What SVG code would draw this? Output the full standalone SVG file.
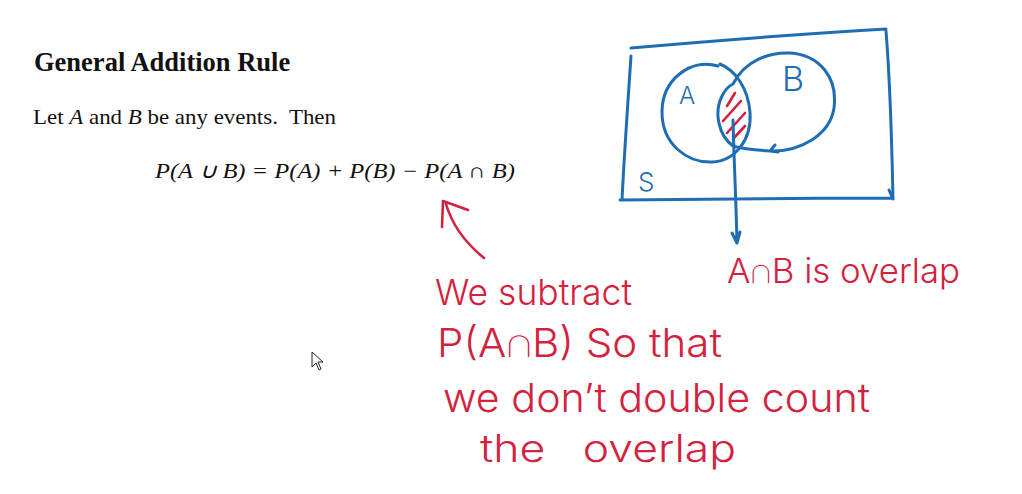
<svg xmlns="http://www.w3.org/2000/svg" width="1022" height="494" viewBox="0 0 1022 494">
<style>
.ink-b{fill:none;stroke:#1f6db3;stroke-width:3;stroke-linecap:round;stroke-linejoin:round}
.ink-r{fill:none;stroke:#d4213d;stroke-width:2.6;stroke-linecap:round;stroke-linejoin:round}
.hand-r{font-family:"Inter","Lato","DejaVu Sans",sans-serif;fill:#d4213d;font-weight:300}
.hand-b{font-family:"Inter","Lato","DejaVu Sans",sans-serif;fill:#1f6db3;font-weight:300}
.serif{font-family:"Liberation Serif","Times New Roman",serif;fill:#111}
</style>
<rect width="1022" height="494" fill="#ffffff"/>
<g id="title"><text class="serif" x="34" y="71" font-size="26.5" font-weight="bold">General Addition Rule</text></g>
<g id="intro"><text class="serif" x="33" y="124" font-size="21.5" textLength="303" lengthAdjust="spacingAndGlyphs" xml:space="preserve">Let <tspan font-style="italic">A</tspan> and <tspan font-style="italic">B</tspan> be any events.  Then</text></g>
<g id="formula"><text class="serif" x="155" y="178" font-size="21" font-style="italic" textLength="360" lengthAdjust="spacingAndGlyphs">P(A ∪ B) = P(A) + P(B) − P(A ∩ B)</text></g>

<g id="venn">
  <path class="ink-b" d="M631 48 C700 42 800 34 886 29 M631 56 C628 100 624 160 622 200 M620 200 C700 199 800 198 893 198 M886 31 C890 80 892 150 893 199 M889 190 L893 199"/>
  <path class="ink-b" d="M718 66 C690 58 662 80 662 112 C662 145 688 163 712 162 C735 161 752 140 750 112 C748 88 735 70 720 64"/>
  <path class="ink-b" d="M733 146 C718 135 714 112 722 96 C725 90 729 86 733 84 C745 60 770 52 790 53 C820 55 838 78 834 108 C830 135 800 152 770 151 C752 150 740 148 733 146 M775 145 L770 151 L778 152"/>
  <path class="ink-r" d="M735 93 L727 106 M741 101 L723 121 M745 113 L727 133 M745 126 L733 139"/>
  <text class="hand-b" x="679" y="104" font-size="24">A</text>
  <text class="hand-b" x="782" y="91" font-size="34">B</text>
  <text class="hand-b" x="638" y="191" font-size="26">S</text>
</g>

<g id="connectors">
  <path class="ink-b" d="M733 120 C734 160 736 200 737 243 M732 233 L737 243 L740 232"/>
  <path class="ink-r" d="M484 258 C468 245 453 228 446 204 M443 201 L442 227 M443 201 L468 210"/>
</g>

<g id="overlap-note"><text class="hand-r" x="727" y="283" font-size="34" textLength="233" lengthAdjust="spacingAndGlyphs">A∩B is overlap</text></g>
<g id="subtract-note">
  <text class="hand-r" x="435" y="305" font-size="36" textLength="197" lengthAdjust="spacingAndGlyphs">We subtract</text>
  <text class="hand-r" x="437" y="357" font-size="40" textLength="285" lengthAdjust="spacingAndGlyphs">P(A∩B) So that</text>
  <text class="hand-r" x="443" y="412" font-size="40" textLength="427" lengthAdjust="spacingAndGlyphs">we don’t double count</text>
  <text class="hand-r" x="480" y="462" font-size="38" textLength="256" lengthAdjust="spacingAndGlyphs" xml:space="preserve">the   overlap</text>
</g>

<g id="cursor"><path d="M312 352 L312 367 L316 363 L319 370 L321 369 L318 362 L323 362 Z" fill="#fff" stroke="#222" stroke-width="1"/></g>
</svg>
